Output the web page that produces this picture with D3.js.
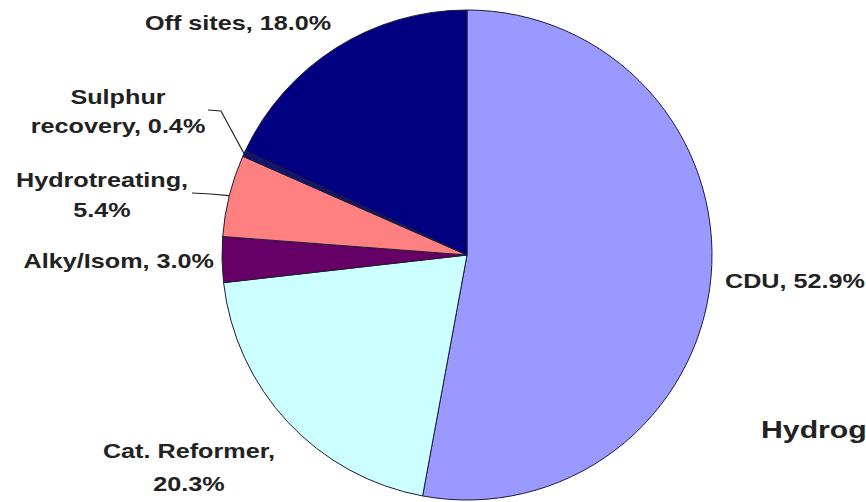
<!DOCTYPE html>
<html>
<head>
<meta charset="utf-8">
<script src="https://cdn.jsdelivr.net/npm/d3@7"></script>
<style>
  html, body { margin: 0; padding: 0; background: #fff; }
  svg { display: block; }
  text { font-family: "Liberation Sans", Arial, sans-serif; fill: #222; }
</style>
</head>
<body>
<svg id="chart" width="866" height="502"></svg>
<script>
// Hydrogen consumption by refinery unit (share of total, %)
const categories = ["CDU", "Cat. Reformer", "Alky/Isom", "Hydrotreating", "Sulphur recovery", "Off sites"];
const values = [52.9, 20.3, 3.0, 5.4, 0.4, 18.0];
const colors = ["#9999ff", "#ccffff", "#660066", "#ff8080", "#14146e", "#000080"];
const titleText = "Hydrogen";

// label placement: anchor point, text anchor, words on first line, line gap, optional leader elbow
const labelLayout = [
  { x: 725, y: 288, anchor: "start", firstWords: 2, gap: 0 },
  { x: 189, y: 458, anchor: "middle", firstWords: 2, gap: 33 },
  { x: 214, y: 268, anchor: "end", firstWords: 2, gap: 0 },
  { x: 102, y: 187, anchor: "middle", firstWords: 1, gap: 30, leader: [[192, 193], [211, 194]] },
  { x: 118, y: 104, anchor: "middle", firstWords: 1, gap: 29, leader: [[208, 110], [221, 111]] },
  { x: 238, y: 30, anchor: "middle", firstWords: 3, gap: 0 }
];

const cx = 467, cy = 255, radius = 245;
const stretch = 1.26;

const svg = d3.select("#chart");
const g = svg.append("g").attr("transform", `translate(${cx},${cy})`);

const pie = d3.pie().sort(null).value(d => d.value);
const arc = d3.arc().innerRadius(0).outerRadius(radius);
const edge = d3.arc().innerRadius(radius).outerRadius(radius);

const data = categories.map((c, i) => ({ name: c, value: values[i], color: colors[i], layout: labelLayout[i] }));
const arcs = pie(data);

g.selectAll("path.slice")
  .data(arcs)
  .join("path")
  .attr("class", "slice")
  .attr("d", arc)
  .attr("fill", d => d.data.color)
  .attr("stroke", "#1c1c3a")
  .attr("stroke-width", 1);

// leader lines from the rim of thin slices to their labels
const line = d3.line();
arcs.filter(d => d.data.layout.leader).forEach(d => {
  const [ex, ey] = edge.centroid(d);
  const pts = d.data.layout.leader.concat([[cx + ex, cy + ey]]);
  svg.append("path")
    .attr("d", line(pts))
    .attr("fill", "none")
    .attr("stroke", "#222")
    .attr("stroke-width", 1.2);
});

// slice labels: "name, value%" broken onto lines
arcs.forEach(d => {
  const L = d.data.layout;
  const words = `${d.data.name}, ${d.data.value.toFixed(1)}%`.split(" ");
  const lines = [words.slice(0, L.firstWords).join(" "), words.slice(L.firstWords).join(" ")].filter(s => s.length);
  const t = svg.append("text")
    .attr("transform", `translate(${L.x},${L.y}) scale(${stretch},1)`)
    .attr("text-anchor", L.anchor)
    .attr("font-size", 20)
    .attr("font-weight", "bold");
  lines.forEach((s, k) => {
    t.append("tspan").attr("x", 0).attr("y", k * L.gap).text(s);
  });
});

svg.append("text")
  .attr("transform", `translate(761,438) scale(${stretch},1)`)
  .attr("font-size", 24)
  .attr("font-weight", "bold")
  .text(titleText);
</script>
</body>
</html>
